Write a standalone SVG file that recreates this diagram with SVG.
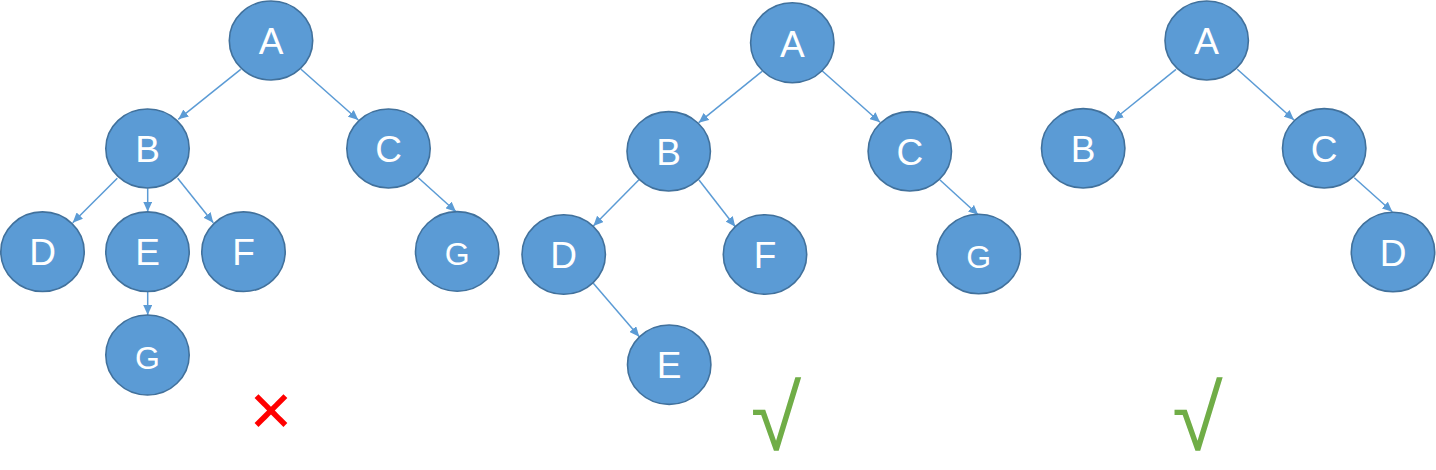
<svg xmlns="http://www.w3.org/2000/svg" width="1436" height="470" viewBox="0 0 1436 470">
<defs>
<style>
.node ellipse{fill:#5B9BD5;stroke:#41719C;stroke-width:1.6}
.node text{fill:#FFFFFF;font-family:"Liberation Sans",Arial,sans-serif;font-size:37px;text-anchor:middle}
.node text.g{font-size:32px}
.edges line{stroke:#5B9BD5;stroke-width:1.5;marker-end:url(#arr)}
.ok{fill:#70AD47;font-family:"Liberation Sans",Arial,sans-serif;font-size:92px;text-anchor:middle}
.no{fill:#FF0000;font-family:"DejaVu Sans",sans-serif;font-size:56px;text-anchor:middle}
</style>
<marker id="arr" markerUnits="userSpaceOnUse" markerWidth="11" markerHeight="9" refX="10" refY="4.5" orient="auto">
<path d="M0,0 L10,4.5 L0,9 Z" fill="#5B9BD5"/>
</marker>
</defs>
<rect width="1436" height="470" fill="#FFFFFF"/>
<g id="connectors" class="edges">
<line x1="240.7" y1="69.3" x2="178.3" y2="119.3"/>
<line x1="301" y1="69.3" x2="358.3" y2="120"/>
<line x1="117.3" y1="178.3" x2="72.7" y2="222.7"/>
<line x1="147.7" y1="188.3" x2="147.7" y2="211.7"/>
<line x1="177.7" y1="178.3" x2="213.3" y2="222.7"/>
<line x1="418.3" y1="177.7" x2="456" y2="211.7"/>
<line x1="147.7" y1="292" x2="147.7" y2="315"/>
<line x1="762" y1="71.3" x2="698.7" y2="122.7"/>
<line x1="822.3" y1="71" x2="880" y2="122.3"/>
<line x1="638.7" y1="180" x2="593.3" y2="226"/>
<line x1="699" y1="180" x2="735.3" y2="226.7"/>
<line x1="940" y1="180" x2="978.3" y2="215"/>
<line x1="593.3" y1="283.3" x2="639.3" y2="336.7"/>
<line x1="1176" y1="69.3" x2="1113.3" y2="120"/>
<line x1="1237.3" y1="69.3" x2="1294" y2="120"/>
<line x1="1354.3" y1="177.7" x2="1392.3" y2="211.7"/>
</g>
<g id="t1-A" class="node"><ellipse cx="271" cy="40.5" rx="41.7" ry="39.5"/><text x="271" y="54.3">A</text></g>
<g id="t1-B" class="node"><ellipse cx="147.5" cy="148.5" rx="41.7" ry="39.5"/><text x="147.5" y="162.3">B</text></g>
<g id="t1-C" class="node"><ellipse cx="388.5" cy="148.5" rx="41.7" ry="39.5"/><text x="388.5" y="162.3">C</text></g>
<g id="t1-D" class="node"><ellipse cx="42.5" cy="251.7" rx="41.7" ry="39.8"/><text x="42.5" y="265.3">D</text></g>
<g id="t1-E" class="node"><ellipse cx="147.5" cy="251.7" rx="41.7" ry="39.8"/><text x="147.5" y="265.3">E</text></g>
<g id="t1-F" class="node"><ellipse cx="243.5" cy="251.7" rx="41.7" ry="39.8"/><text x="243.5" y="265.3">F</text></g>
<g id="t1-G" class="node"><ellipse cx="457.2" cy="251.4" rx="41.7" ry="39.8"/><text class="g" x="457.2" y="265">G</text></g>
<g id="t1-G2" class="node"><ellipse cx="147.5" cy="355" rx="41.7" ry="40"/><text class="g" x="147.5" y="368.5">G</text></g>
<text id="t1-mark" class="no" x="271" y="430.5">✕</text>
<g id="t2-A" class="node"><ellipse cx="792.3" cy="42.7" rx="41.7" ry="40"/><text x="792.3" y="56.5">A</text></g>
<g id="t2-B" class="node"><ellipse cx="668.7" cy="151.3" rx="41.7" ry="39.7"/><text x="668.7" y="165">B</text></g>
<g id="t2-C" class="node"><ellipse cx="909.8" cy="151.3" rx="41.7" ry="39.7"/><text x="909.8" y="165">C</text></g>
<g id="t2-D" class="node"><ellipse cx="563.7" cy="254.5" rx="41.7" ry="39.7"/><text x="563.7" y="268.2">D</text></g>
<g id="t2-F" class="node"><ellipse cx="765" cy="254.5" rx="41.7" ry="39.7"/><text x="765" y="268.2">F</text></g>
<g id="t2-G" class="node"><ellipse cx="978.7" cy="254" rx="41.7" ry="39.7"/><text class="g" x="978.7" y="268">G</text></g>
<g id="t2-E" class="node"><ellipse cx="669.2" cy="364.7" rx="41.7" ry="39.7"/><text x="669.2" y="378.4">E</text></g>
<text id="t2-mark" class="ok" x="776" y="450">√</text>
<g id="t3-A" class="node"><ellipse cx="1206.7" cy="40.5" rx="41.7" ry="39.5"/><text x="1206.7" y="54.3">A</text></g>
<g id="t3-B" class="node"><ellipse cx="1083.2" cy="148.3" rx="41.7" ry="39.7"/><text x="1083.2" y="162">B</text></g>
<g id="t3-C" class="node"><ellipse cx="1324.2" cy="148.3" rx="41.7" ry="39.7"/><text x="1324.2" y="162">C</text></g>
<g id="t3-D" class="node"><ellipse cx="1393" cy="252" rx="41.7" ry="39.7"/><text x="1393" y="265.7">D</text></g>
<text id="t3-mark" class="ok" x="1197.5" y="450">√</text>
</svg>
